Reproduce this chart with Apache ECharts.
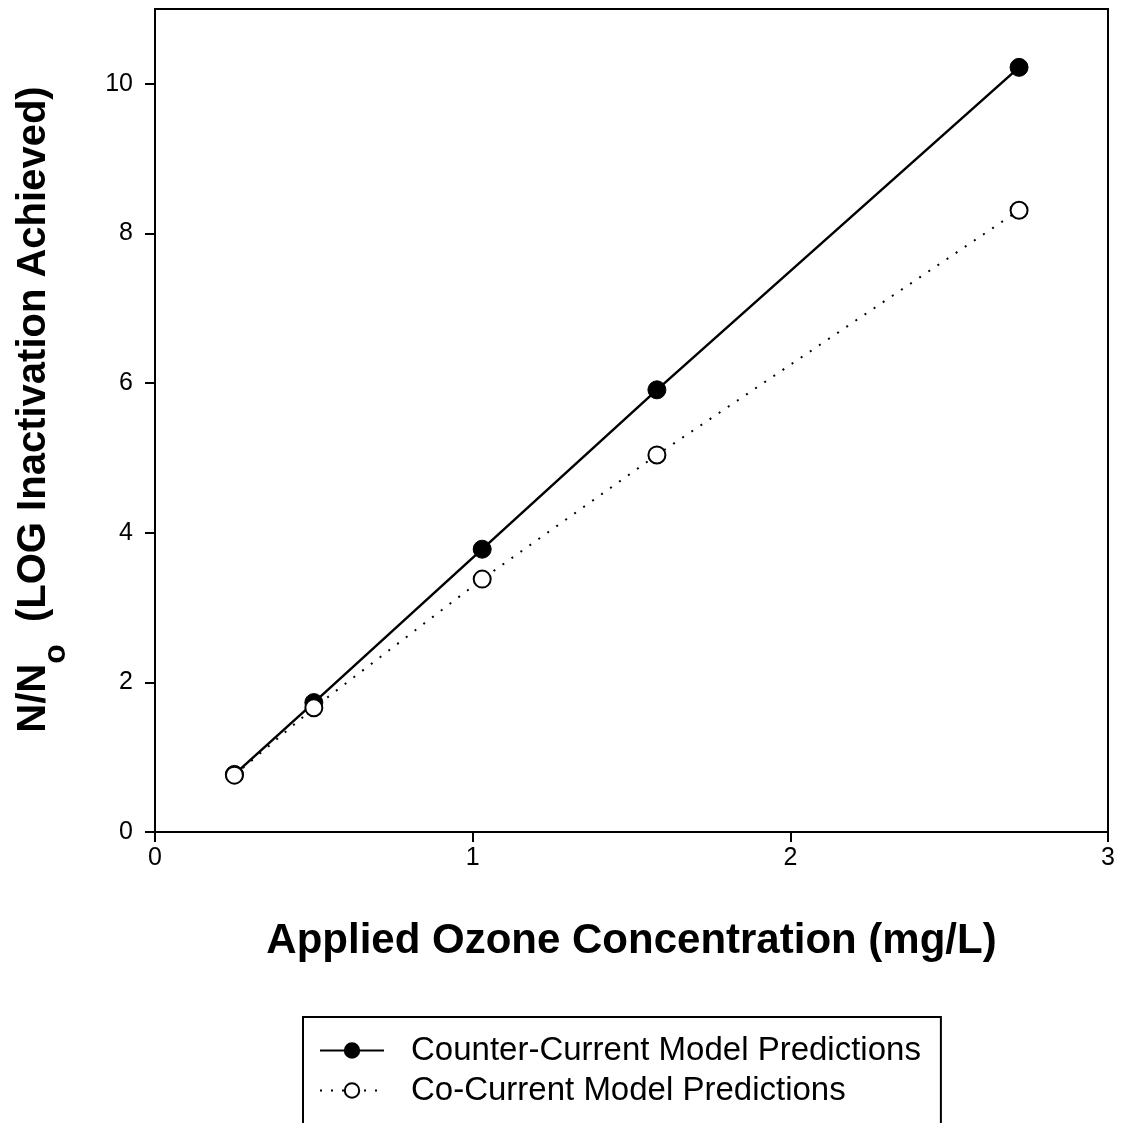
<!DOCTYPE html>
<html>
<head>
<meta charset="utf-8">
<script src="https://cdn.jsdelivr.net/npm/echarts@6/dist/echarts.min.js"></script>
<style>html,body{margin:0;padding:0;background:#fff}#c{width:1121px;height:1123px}</style>
</head>
<body>
<div id="c"></div>
<script>
const ozone = [0.25, 0.50, 1.03, 1.58, 2.72];
const counterCurrent = [0.77, 1.73, 3.78, 5.91, 10.22];
const coCurrent = [0.76, 1.66, 3.38, 5.04, 8.31];
const xTicks = [0, 1, 2, 3];
const yTicks = [0, 2, 4, 6, 8, 10];
const seriesNames = ['Counter-Current Model Predictions', 'Co-Current Model Predictions'];
const xTitle = 'Applied Ozone Concentration (mg/L)';

const FONT = "'Liberation Sans', Arial, sans-serif";
const chart = echarts.init(document.getElementById('c'));
const pairs = (xs, ys) => xs.map((x, i) => [x, ys[i]]);
chart.setOption({
  animation: false,
  backgroundColor: '#fff',
  textStyle: { fontFamily: FONT, color: '#000' },
  grid: { left: 155, top: 9, right: 13, bottom: 291, outerBoundsMode: 'none', containLabel: false,
          show: true, borderColor: '#000', borderWidth: 2, backgroundColor: 'transparent' },
  xAxis: {
    type: 'value', min: 0, max: 3, interval: 1,
    axisLine: { lineStyle: { color: '#000', width: 2 } },
    axisTick: { length: 10, lineStyle: { color: '#000', width: 2 }, customValues: xTicks },
    axisLabel: { fontSize: 25, color: '#000', margin: 14, fontFamily: FONT, customValues: xTicks },
    splitLine: { show: false },
    name: xTitle, nameLocation: 'middle', nameGap: 88,
    nameTextStyle: { fontSize: 42, fontWeight: 'bold', color: '#000', fontFamily: FONT }
  },
  yAxis: {
    type: 'value', min: 0, max: 11, interval: 2,
    axisLine: { lineStyle: { color: '#000', width: 2 } },
    axisTick: { length: 10, lineStyle: { color: '#000', width: 2 }, customValues: yTicks },
    axisLabel: { fontSize: 25, color: '#000', margin: 22, fontFamily: FONT, customValues: yTicks },
    splitLine: { show: false },
    name: 'N/N{sub|o}  (LOG Inactivation Achieved)', nameLocation: 'middle', nameGap: 100, nameRotate: 90,
    nameTextStyle: {
      fontSize: 40, fontWeight: 'bold', color: '#000', fontFamily: FONT, lineHeight: 42,
      padding: [0, 0, 0, 22],
      rich: { sub: { fontSize: 32, fontWeight: 'bold', fontFamily: FONT, lineHeight: 42, padding: [44, 0, 0, 0] } }
    }
  },
  legend: {
    orient: 'vertical', left: 303, top: 1017,
    height: 300,
    padding: [17, 20, 60, 16],
    borderColor: '#000', borderWidth: 2,
    itemWidth: 64, itemHeight: 18, itemGap: 7,
    textStyle: { fontSize: 33, lineHeight: 30, color: '#000', fontFamily: FONT, padding: [0, 0, 0, 22] },
    data: seriesNames
  },
  series: [
    {
      name: seriesNames[0], type: 'line', data: pairs(ozone, counterCurrent),
      symbol: 'circle', symbolSize: 18,
      lineStyle: { color: '#000', width: 2.5 },
      itemStyle: { color: '#000', borderColor: '#000', borderWidth: 1 },
      z: 2
    },
    {
      name: seriesNames[1], type: 'line', data: pairs(ozone, coCurrent),
      symbol: 'circle', symbolSize: 17,
      lineStyle: { color: '#000', width: 2, type: [2, 9] },
      itemStyle: { color: '#fff', borderColor: '#000', borderWidth: 2 },
      z: 3
    }
  ]
});
</script>
</body>
</html>
